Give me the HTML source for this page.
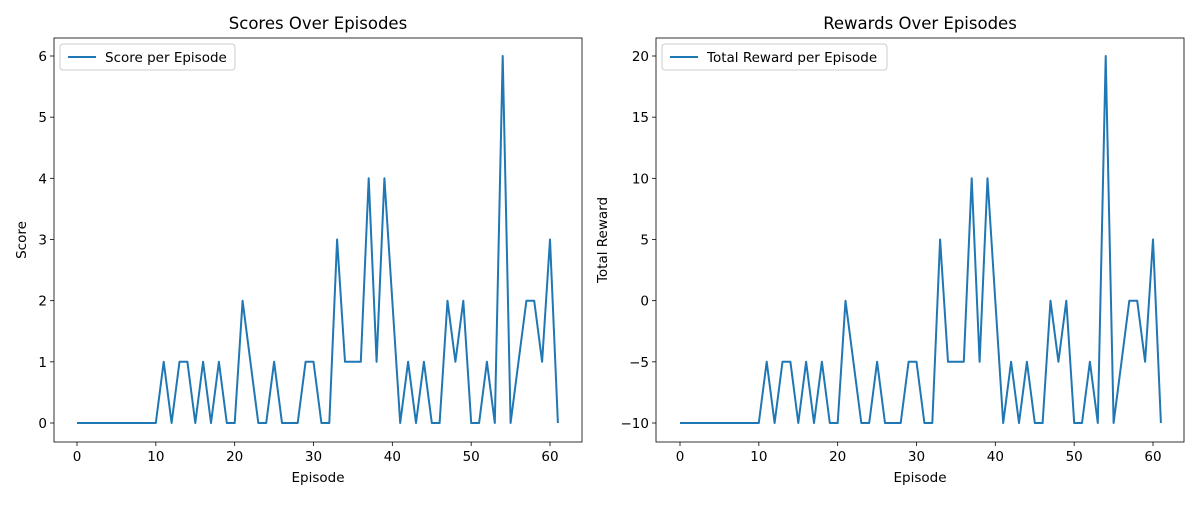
<!DOCTYPE html>
<html><head><meta charset="utf-8"><style>
body{margin:0;background:#fff;font-family:"Liberation Sans","DejaVu Sans",sans-serif}
svg text{font-family:"DejaVu Sans","Liberation Sans",sans-serif;fill:#000}
</style></head><body>
<svg id="chart" width="1200" height="500"></svg>
<script>
const episodes=[];for(let i=0;i<=61;i++)episodes.push(i);
const scores=[0,0,0,0,0,0,0,0,0,0,0,1,0,1,1,0,1,0,1,0,0,2,1,0,0,1,0,0,0,1,1,0,0,3,1,1,1,4,1,4,2,0,1,0,1,0,0,2,1,2,0,0,1,0,6,0,1,2,2,1,3,0];
const rewards=[-10,-10,-10,-10,-10,-10,-10,-10,-10,-10,-10,-5,-10,-5,-5,-10,-5,-10,-5,-10,-10,0,-5,-10,-10,-5,-10,-10,-10,-5,-5,-10,-10,5,-5,-5,-5,10,-5,10,0,-10,-5,-10,-5,-10,-10,0,-5,0,-10,-10,-5,-10,20,-10,-5,0,0,-5,5,-10];
const xTicks=[0,10,20,30,40,50,60];
const yTicksL=[0,1,2,3,4,5,6];
const yTicksR=[-10,-5,0,5,10,15,20];
const NS="http://www.w3.org/2000/svg";
const svg=document.getElementById('chart');
function mk(t,a,p){const e=document.createElementNS(NS,t);for(const k in a)e.setAttribute(k,a[k]);(p||svg).appendChild(e);return e;}
function panel(o){
  const g=mk('g',{});
  
  
  const L=o.L,R=o.R,T=38,B=442;
  const xs=v=>o.x0+(v-0)*(o.x60-o.x0)/60;
  const ys=v=>o.yA+(v-o.vA)*(o.yB-o.yA)/(o.vB-o.vA);
  const ax=mk('rect',{x:L,y:T,width:R-L,height:B-T,fill:'none',stroke:'#000','stroke-width':0.8},g);
  
  xTicks.forEach(t=>{const x=xs(t);mk('line',{x1:x,x2:x,y1:B,y2:B+4,stroke:'#000','stroke-width':0.8},g);
    const tx=mk('text',{x:x,y:B+19,'text-anchor':'middle','font-size':13.5},g);tx.textContent=t;
    });
  o.yt.forEach(t=>{const y=ys(t);mk('line',{x1:L-4,x2:L,y1:y,y2:y,stroke:'#000','stroke-width':0.8},g);
    const tx=mk('text',{x:L-7,y:y+5,'text-anchor':'end','font-size':13.5},g);tx.textContent=t<0?'\u2212'+(-t):t;
    });
  const pts=o.data.map((v,i)=>xs(episodes[i]).toFixed(1)+','+ys(v).toFixed(1)).join(' ');
  const pl=mk('polyline',{points:pts,fill:'none',stroke:'#1f77b4','stroke-width':2,'stroke-linejoin':'round'},g);
  
  const ti=mk('text',{x:(L+R)/2,y:29,'text-anchor':'middle','font-size':16.5},g);ti.textContent=o.title;
  
  const xl=mk('text',{x:(L+R)/2,y:482,'text-anchor':'middle','font-size':13.5},g);xl.textContent='Episode';
  
  const yl=mk('text',{x:0,y:0,'text-anchor':'middle','font-size':13.5,transform:`translate(${o.ylx},240) rotate(-90)`},g);yl.textContent=o.ylab;
  
  const lg=mk('g',{},g);
  mk('rect',{x:L+6,y:44,width:o.lw,height:26,rx:3,fill:'#fff',stroke:'#ccc','stroke-width':1},lg);
  mk('line',{x1:L+14,x2:L+42,y1:57,y2:57,stroke:'#1f77b4','stroke-width':2},lg);
  const lt=mk('text',{x:L+51,y:62,'font-size':13.5},lg);lt.textContent=o.leg;
  
}
panel({name:'scores-panel',L:54,R:582,x0:77,x60:550,yA:423,vA:0,yB:56,vB:6,yt:yTicksL,data:scores,title:'Scores Over Episodes',ylab:'Score',ylx:26,leg:'Score per Episode',lw:175});
panel({name:'rewards-panel',L:656,R:1184,x0:680,x60:1153,yA:423,vA:-10,yB:56,vB:20,yt:yTicksR,data:rewards,title:'Rewards Over Episodes',ylab:'Total Reward',ylx:607,leg:'Total Reward per Episode',lw:225});
</script>
</body></html>
